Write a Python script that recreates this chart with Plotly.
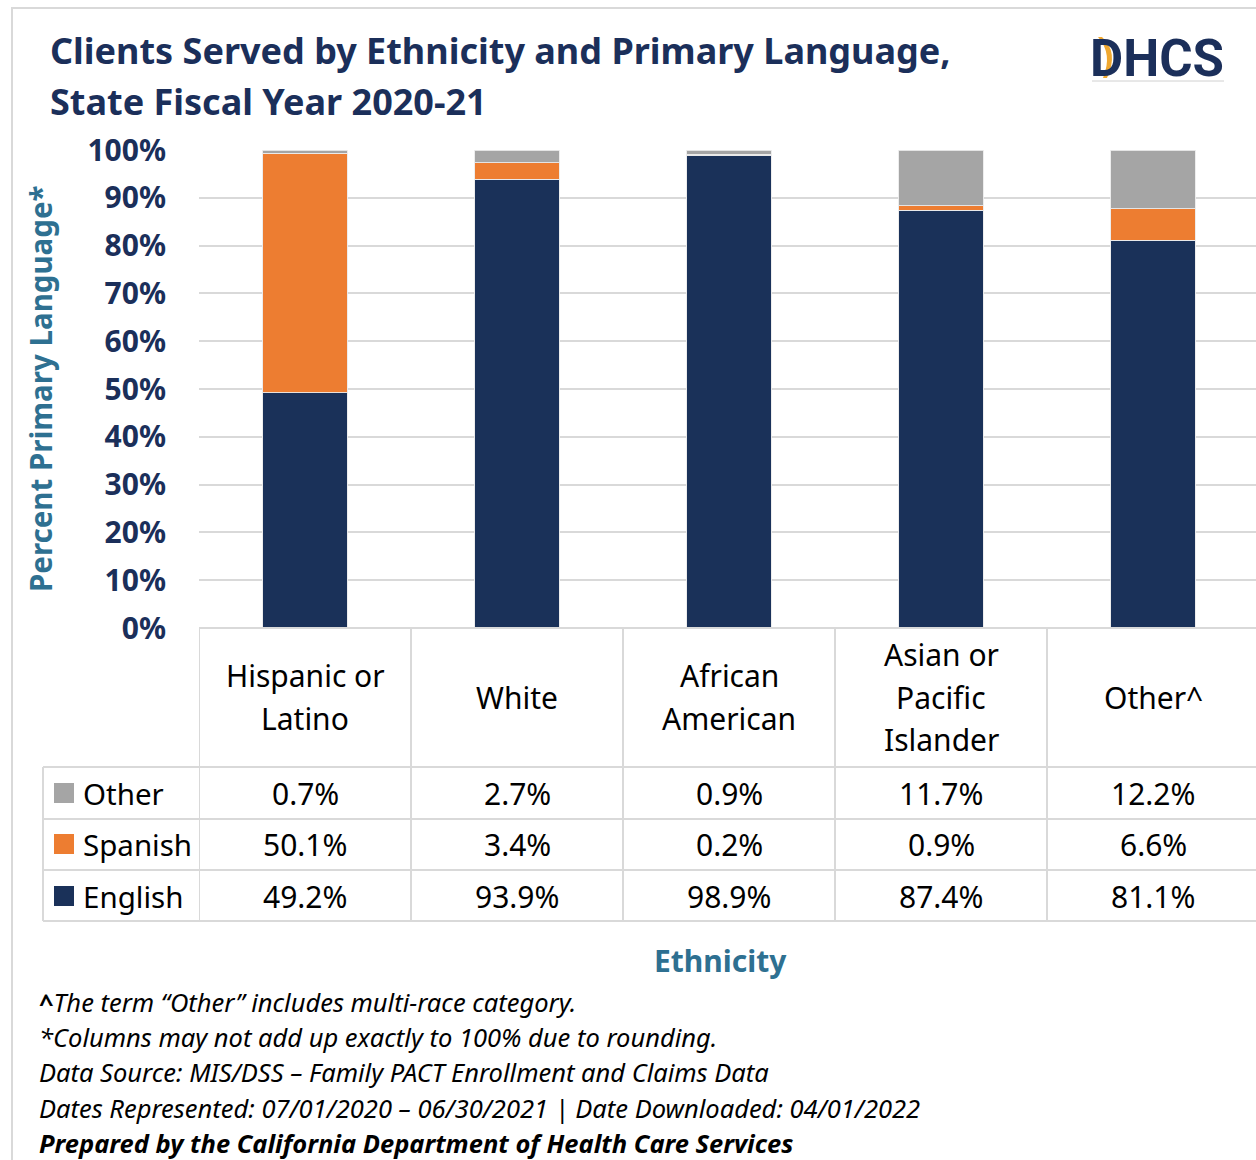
import plotly.graph_objects as go

# ---------------- data ----------------
categories = ["Hispanic or<br>Latino", "White", "African<br>American",
              "Asian or<br>Pacific<br>Islander", "Other^"]
english = [49.2, 93.9, 98.9, 87.4, 81.1]
spanish = [50.1, 3.4, 0.2, 0.9, 6.6]
other = [0.7, 2.7, 0.9, 11.7, 12.2]
series_names = ["Other", "Spanish", "English"]   # table order, top to bottom
y_ticks = [0, 10, 20, 30, 40, 50, 60, 70, 80, 90, 100]
title_lines = ["Clients Served by Ethnicity and Primary Language,",
               "State Fiscal Year 2020-21"]
y_title = "Percent Primary Language*"
x_title = "Ethnicity"
footnotes = [
    "<b>^</b><i>The term “Other” includes multi-race category.</i>",
    "<i>*Columns may not add up exactly to 100% due to rounding.</i>",
    "<i>Data Source: MIS/DSS – Family PACT Enrollment and Claims Data</i>",
    "<i>Dates Represented: 07/01/2020 – 06/30/2021 | Date Downloaded: 04/01/2022</i>",
    "<b><i>Prepared by the California Department of Health Care Services</i></b>",
]

# ---------------- style ----------------
W, H = 1256, 1160
NAVY = "#1a3159"
ORANGE = "#ed7d31"
GRAY = "#a5a5a5"
TITLE_C = "#1b2f5a"
TEAL = "#2e7091"
GRID = "#d9d9d9"
FONT = "Noto Sans"
colors = {"English": NAVY, "Spanish": ORANGE, "Other": GRAY}
values = {"English": english, "Spanish": spanish, "Other": other}


def px(x):
    return x / W


def py(y):
    return 1 - y / H


PLOT_L, PLOT_T, PLOT_B = 199, 150, 628
COL_W = 212
x_right = (W - PLOT_L) / COL_W - 0.5

fig = go.Figure()
for name in ["English", "Spanish", "Other"]:
    fig.add_trace(go.Bar(
        x=list(range(len(categories))), y=values[name], name=name,
        marker=dict(color=colors[name], line=dict(color="rgba(235,235,235,0.9)", width=1)),
        width=0.4, showlegend=False,
    ))

fig.update_layout(
    width=W, height=H, barmode="stack",
    margin=dict(l=0, r=0, t=0, b=0, autoexpand=False),
    paper_bgcolor="white", plot_bgcolor="white",
    font=dict(family=FONT),
    xaxis=dict(domain=[px(PLOT_L), 1], range=[-0.5, x_right], showticklabels=False,
               showgrid=False, zeroline=False, showline=False, fixedrange=True),
    yaxis=dict(domain=[py(PLOT_B), py(PLOT_T)], range=[0, 100], tickvals=y_ticks,
               ticktext=[f"{v}%" for v in y_ticks], showgrid=True, gridcolor=GRID,
               gridwidth=2, zeroline=False, showline=False, ticks="outside",
               ticklen=26, tickcolor="rgba(0,0,0,0)",
               tickfont=dict(family=FONT, size=30, color=TITLE_C, weight="bold")),
)

shapes = []
ann = []
LC = GRID
# outer frame
shapes.append(dict(type="path", xref="paper", yref="paper",
                   path=f"M {px(12)},{py(H+5)} L {px(12)},{py(8)} L {px(W+5)},{py(8)}",
                   line=dict(color=LC, width=2)))

# table lines
row_y = [767, 819, 870, 921]
shapes.append(dict(type="line", xref="paper", yref="paper", x0=px(PLOT_L), x1=1,
                   y0=py(PLOT_B), y1=py(PLOT_B), line=dict(color=LC, width=2)))
for ry in row_y:
    shapes.append(dict(type="line", xref="paper", yref="paper", x0=px(43), x1=1,
                       y0=py(ry), y1=py(ry), line=dict(color=LC, width=2)))
shapes.append(dict(type="line", xref="paper", yref="paper", x0=px(43), x1=px(43),
                   y0=py(767), y1=py(921), line=dict(color=LC, width=2)))
for i in range(len(categories)):
    shapes.append(dict(type="line", xref="x", yref="paper", x0=i - 0.5, x1=i - 0.5,
                       y0=py(PLOT_B), y1=py(921), line=dict(color=LC, width=2)))

# header labels
HDR_C, LINE_SP = 697, 42.5
for i, cat in enumerate(categories):
    lines = cat.split("<br>")
    n = len(lines)
    for k, ln in enumerate(lines):
        yc = HDR_C + (k - (n - 1) / 2) * LINE_SP
        ann.append(dict(x=i, y=py(yc), xref="x", yref="paper", text=ln, showarrow=False,
                        xanchor="center", yanchor="middle",
                        font=dict(family=FONT, size=30, color="#000000")))

# value rows
row_c = [793, 844, 896]
for r, name in enumerate(series_names):
    yc = row_c[r]
    shapes.append(dict(type="rect", xref="paper", yref="paper", x0=px(54), x1=px(74),
                       y0=py(yc + 10), y1=py(yc - 10), fillcolor=colors[name],
                       line=dict(width=0)))
    ann.append(dict(x=px(81), y=py(yc), xref="paper", yref="paper", text=name,
                    showarrow=False, xanchor="left", yanchor="middle",
                    font=dict(family=FONT, size=29.5, color="#000000")))
    for i, v in enumerate(values[name]):
        ann.append(dict(x=i, y=py(yc), xref="x", yref="paper", text=f"{v:.1f}%",
                        showarrow=False, xanchor="center", yanchor="middle",
                        font=dict(family=FONT, size=30, color="#000000")))

# titles
for k, t in enumerate(title_lines):
    ann.append(dict(x=px(48), y=py(50 + k * 51), xref="paper", yref="paper", text=t,
                    showarrow=False, xanchor="left", yanchor="middle",
                    font=dict(family=FONT, size=36, color=TITLE_C, weight="bold")))
ann.append(dict(x=px(40), y=py(389), xref="paper", yref="paper", text=y_title,
                showarrow=False, textangle=-90, xanchor="center", yanchor="middle",
                font=dict(family=FONT, size=29.5, color=TEAL, weight="bold")))
ann.append(dict(x=px(720), y=py(960), xref="paper", yref="paper", text=x_title,
                showarrow=False, xanchor="center", yanchor="middle",
                font=dict(family=FONT, size=30, color=TEAL, weight="bold")))

# footnotes
for k, t in enumerate(footnotes):
    ann.append(dict(x=px(37), y=py(1002 + k * 35.2), xref="paper", yref="paper", text=t,
                    showarrow=False, xanchor="left", yanchor="middle",
                    font=dict(family=FONT, size=25.5, color="#000000")))

# logo
ann.append(dict(x=px(1157), y=py(58), xref="paper", yref="paper", text="<b>DHCS</b>",
                showarrow=False, xanchor="center", yanchor="middle",
                font=dict(family="Roboto", size=51, color=TITLE_C)))
shapes.append(dict(type="path", xref="paper", yref="paper",
                   path=(f"M {px(1102)},{py(37)} Q {px(1119)},{py(52)} {px(1107)},{py(78)} "
                         f"L {px(1103)},{py(78)} Q {px(1113)},{py(54)} {px(1098)},{py(37)} Z"),
                   fillcolor="#f0a830", line=dict(width=0)))
shapes.append(dict(type="line", xref="paper", yref="paper", x0=px(1092), x1=px(1224),
                   y0=py(81), y1=py(81), line=dict(color="#d0d0d0", width=1)))

fig.update_layout(shapes=shapes, annotations=ann)
fig.write_html("out.html", config={"displayModeBar": False},
               post_script="document.body.style.margin='0';document.body.style.padding='0';")
